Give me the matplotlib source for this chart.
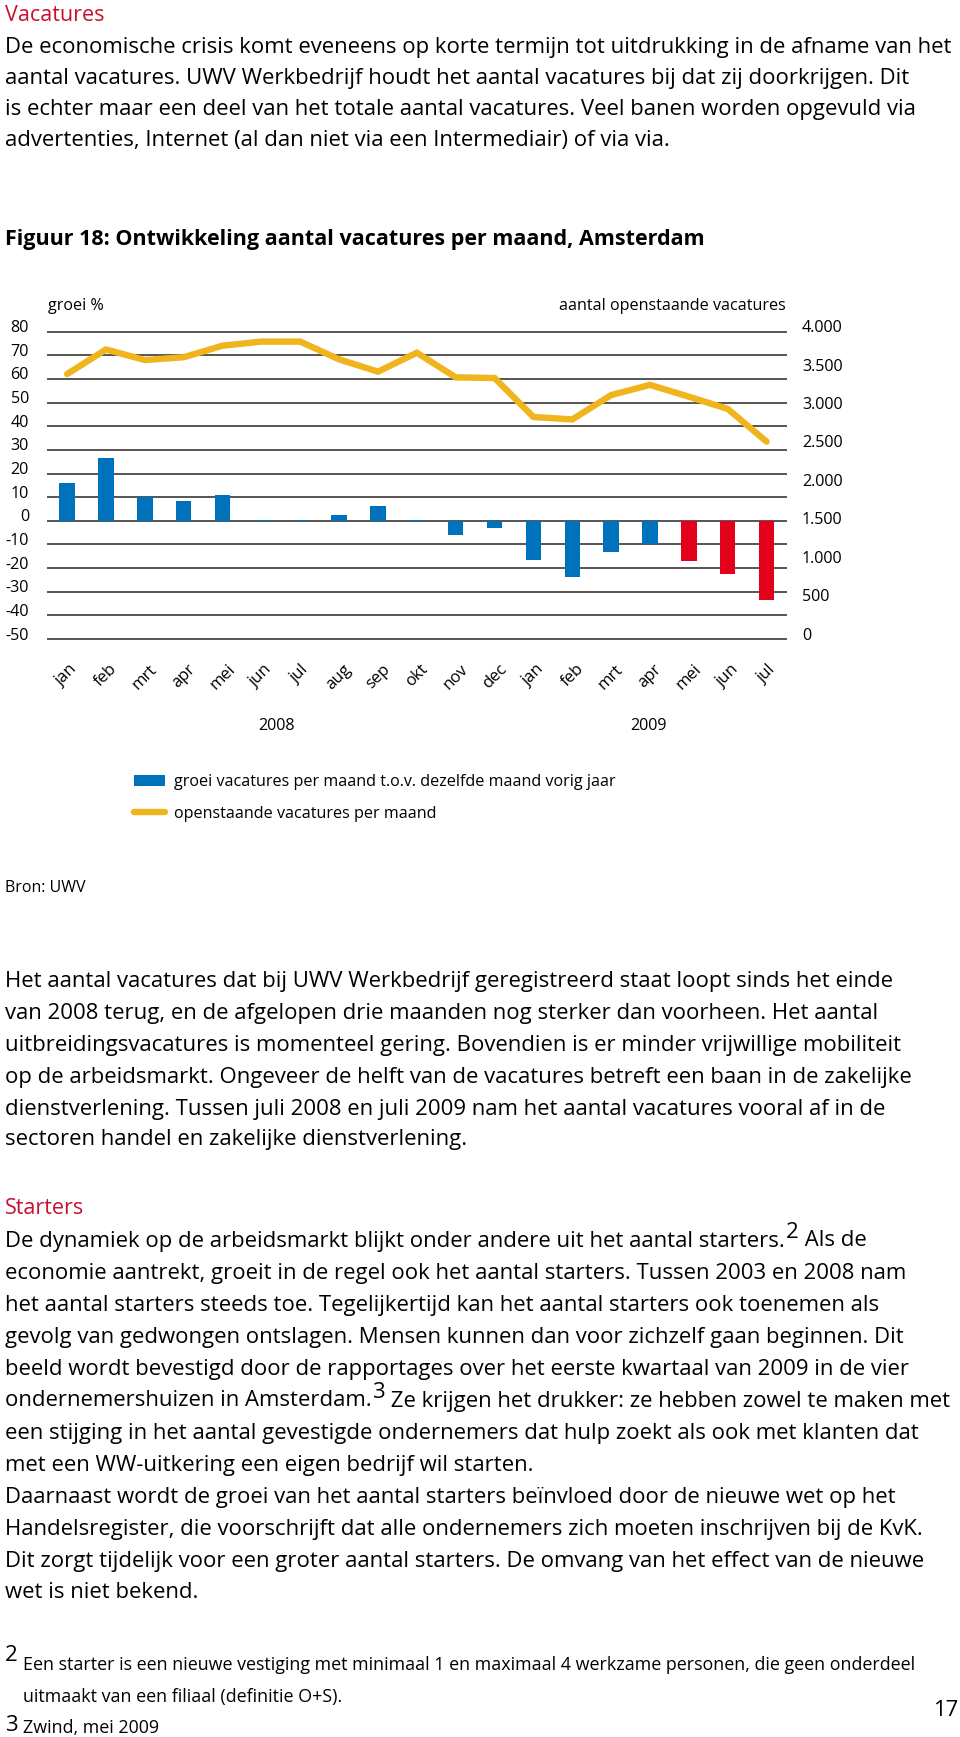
import matplotlib
matplotlib.use("Agg")
import matplotlib.pyplot as plt
import matplotlib.transforms as mtransforms

# gegevens figuur 18
maanden = ["jan", "feb", "mrt", "apr", "mei", "jun", "jul", "aug", "sep", "okt", "nov", "dec",
           "jan", "feb", "mrt", "apr", "mei", "jun", "jul"]
groei = [16.0, 26.5, 9.9, 8.5, 10.8, -0.7, 0.4, 2.4, 6.1, -0.3, -5.8, -3.1,
         -16.4, -23.7, -13.1, -9.6, -17.2, -22.7, -33.4]
openstaand = [3449, 3769, 3631, 3668, 3818, 3871, 3871, 3640, 3480, 3726, 3406, 3397,
              2890, 2858, 3175, 3308, 3154, 2995, 2569]
links_ticks = [80, 70, 60, 50, 40, 30, 20, 10, 0, -10, -20, -30, -40, -50]
rechts_ticks = [4000, 3500, 3000, 2500, 2000, 1500, 1000, 500, 0]
rechts_labels = ["4.000", "3.500", "3.000", "2.500", "2.000", "1.500", "1.000", "500", "0"]
jaren = ["2008", "2009"]

BLAUW = "#0072BC"
ROOD = "#E2001A"
GEEL = "#F0B41C"
KOP = "#C8102E"
LIJN = "#555555"

W, H = 960, 1737
plt.rcParams["font.family"] = ["Open Sans", "DejaVu Sans"]
plt.rcParams["axes.unicode_minus"] = False

fig = plt.figure(figsize=(W / 100, H / 100), dpi=100)


def fx(px):
    return px / W


def fy(px):
    return 1 - px / H


BODY = 15.95
KLEIN = 11.6
body = [
    (47.6, "De economische crisis komt eveneens op korte termijn tot uitdrukking in de afname van het"),
    (78.6, "aantal vacatures. UWV Werkbedrijf houdt het aantal vacatures bij dat zij doorkrijgen. Dit"),
    (109.6, "is echter maar een deel van het totale aantal vacatures. Veel banen worden opgevuld via"),
    (140.6, "advertenties, Internet (al dan niet via een Intermediair) of via via."),
    (981, "Het aantal vacatures dat bij UWV Werkbedrijf geregistreerd staat loopt sinds het einde"),
    (1013, "van 2008 terug, en de afgelopen drie maanden nog sterker dan voorheen. Het aantal"),
    (1045, "uitbreidingsvacatures is momenteel gering. Bovendien is er minder vrijwillige mobiliteit"),
    (1077, "op de arbeidsmarkt. Ongeveer de helft van de vacatures betreft een baan in de zakelijke"),
    (1109, "dienstverlening. Tussen juli 2008 en juli 2009 nam het aantal vacatures vooral af in de"),
    (1140, "sectoren handel en zakelijke dienstverlening."),
]
starters = [
    ("De dynamiek op de arbeidsmarkt blijkt onder andere uit het aantal starters.", "2", " Als de"),
    ("economie aantrekt, groeit in de regel ook het aantal starters. Tussen 2003 en 2008 nam", None, None),
    ("het aantal starters steeds toe. Tegelijkertijd kan het aantal starters ook toenemen als", None, None),
    ("gevolg van gedwongen ontslagen. Mensen kunnen dan voor zichzelf gaan beginnen. Dit", None, None),
    ("beeld wordt bevestigd door de rapportages over het eerste kwartaal van 2009 in de vier", None, None),
    ("ondernemershuizen in Amsterdam.", "3", " Ze krijgen het drukker: ze hebben zowel te maken met"),
    ("een stijging in het aantal gevestigde ondernemers dat hulp zoekt als ook met klanten dat", None, None),
    ("met een WW-uitkering een eigen bedrijf wil starten.", None, None),
    ("Daarnaast wordt de groei van het aantal starters beïnvloed door de nieuwe wet op het", None, None),
    ("Handelsregister, die voorschrijft dat alle ondernemers zich moeten inschrijven bij de KvK.", None, None),
    ("Dit zorgt tijdelijk voor een groter aantal starters. De omvang van het effect van de nieuwe", None, None),
    ("wet is niet bekend.", None, None),
]

fig.text(fx(5), fy(15.5), "Vacatures", color=KOP, fontsize=BODY - 0.5, va="center")
for y, regel in body:
    fig.text(fx(5), fy(y), regel, fontsize=BODY, va="center")
fig.text(fx(5), fy(888), "Bron: UWV", fontsize=11.5, va="center")
fig.text(fx(5), fy(1209), "Starters", color=KOP, fontsize=BODY - 0.5, va="center")
fig.text(fx(5), fy(240), "Figuur 18: Ontwikkeling aantal vacatures per maand, Amsterdam",
         fontsize=15.5, fontweight="bold", va="center")

# grafiek
ax = fig.add_axes([fx(47.7), fy(639), fx(786) - fx(47.7), (639 - 331.7) / H])
x = list(range(len(maanden)))
kleuren = [BLAUW] * 16 + [ROOD] * 3
bars = ax.bar(x, groei, width=0.4, color=kleuren, zorder=3,
              label="groei vacatures per maand t.o.v. dezelfde maand vorig jaar")
ax.set_xlim(-0.5, 18.5)
ax.set_ylim(-50, 80)
for t in links_ticks:
    ax.axhline(t, color=LIJN, lw=1.4, zorder=1, clip_on=False)
for s in ax.spines.values():
    s.set_visible(False)
ax.set_yticks(links_ticks)
ax.tick_params(axis="y", length=0, pad=13.5, labelsize=KLEIN)
ax.set_xticks(x, maanden)
ax.tick_params(axis="x", length=0, pad=16, labelsize=KLEIN + 0.4)
for lab in ax.get_xticklabels():
    lab.set_rotation(45)
    lab.set_ha("center")
    lab.set_va("top")

ax2 = ax.twinx()
lijn, = ax2.plot(x, openstaand, color=GEEL, lw=4.6, solid_joinstyle="miter",
                 solid_capstyle="round", zorder=4, label="openstaande vacatures per maand")
ax2.set_ylim(0, 4000)
ax2.set_yticks(rechts_ticks, rechts_labels)
ax2.tick_params(axis="y", length=0, pad=11.5, labelsize=KLEIN)
for s in ax2.spines.values():
    s.set_visible(False)

omhoog = mtransforms.ScaledTranslation(0, 0.055, fig.dpi_scale_trans)
for lab in ax.get_yticklabels() + ax2.get_yticklabels():
    lab.set_transform(lab.get_transform() + omhoog)

fig.text(fx(47.7), fy(306), "groei %", fontsize=KLEIN, va="center")
fig.text(fx(786), fy(306), "aantal openstaande vacatures", fontsize=KLEIN, va="center", ha="right")

for jx, jaar in zip([5.4, 14.95], jaren):
    ax.text(jx, fy(726), jaar, transform=mtransforms.blended_transform_factory(ax.transData, fig.transFigure),
            fontsize=KLEIN, ha="center", va="center")

fig.legend(handles=[bars, lijn], loc="center left", bbox_to_anchor=(fx(126), fy(798)),
           frameon=False, fontsize=KLEIN, handlelength=1.9, handleheight=0.7,
           labelspacing=0.95, handletextpad=0.55, borderpad=0)

# starters met voetnootcijfers
fig.canvas.draw()
r = fig.canvas.get_renderer()
y0 = 1241
for i, (deel, sup, rest) in enumerate(starters):
    y = y0 + i * 32
    t = fig.text(fx(5), fy(y), deel, fontsize=BODY, va="center")
    if sup:
        bb = t.get_window_extent(r)
        s = fig.text(bb.x1 / W + fx(1), fy(y - 8), sup, fontsize=BODY, va="center")
        bb2 = s.get_window_extent(r)
        fig.text(bb2.x1 / W, fy(y), rest, fontsize=BODY, va="center")

# voetnoten
VN = 12.9
fig.text(fx(5), fy(1661), "2", fontsize=16, va="baseline")
fig.text(fx(23), fy(1670), "Een starter is een nieuwe vestiging met minimaal 1 en maximaal 4 werkzame personen, die geen onderdeel",
         fontsize=VN, va="baseline")
fig.text(fx(23), fy(1702), "uitmaakt van een filiaal (definitie O+S).", fontsize=VN, va="baseline")
fig.text(fx(5), fy(1731), "3", fontsize=16, va="baseline")
fig.text(fx(23), fy(1733), "Zwind, mei 2009", fontsize=VN, va="baseline")
fig.text(fx(946), fy(1710), "17", fontsize=BODY, va="center", ha="center")

fig.savefig("out.png", dpi=100)
